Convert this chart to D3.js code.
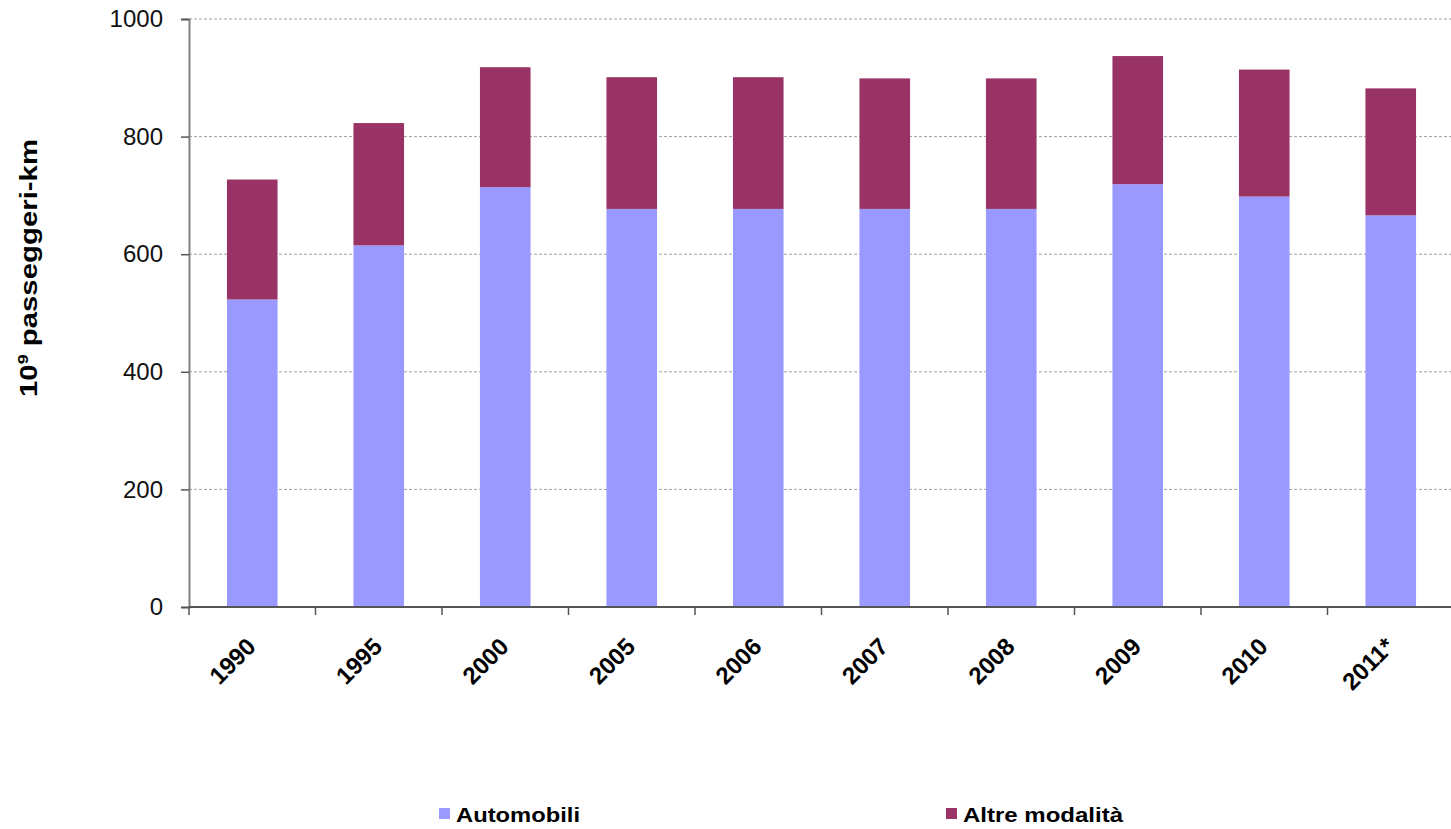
<!DOCTYPE html>
<html><head><meta charset="utf-8">
<script src="https://cdn.jsdelivr.net/npm/d3@7"></script>
<style>body{margin:0;background:#fff;} svg{display:block;}</style>
</head><body>
<svg id="chart" width="1451" height="829"></svg>
<script>
const categories = ["1990","1995","2000","2005","2006","2007","2008","2009","2010","2011*"];
const automobili = [523, 615, 714, 677, 677, 677, 677, 719, 698, 666];
const altre = [204, 208, 204, 224, 224, 222, 222, 218, 216, 216];
const yTicks = [0, 200, 400, 600, 800, 1000];
const seriesNames = ["Automobili", "Altre modalità"];
const colors = ["#9999ff", "#993366"];

const FONT = "Liberation Sans, Arial, Helvetica, sans-serif";
const svg = d3.select("#chart");
const m = {left: 189, top: 19, right: -3, bottom: 222};
const W = 1451, H = 829;
const x = d3.scaleBand().domain(categories).range([m.left, W - m.right]).paddingInner(0.6).paddingOuter(0.3);
const y = d3.scaleLinear().domain([0, 1000]).range([H - m.bottom, m.top]);

// gridlines
svg.append("g").selectAll("line").data(yTicks.filter(d => d > 0)).join("line")
  .attr("x1", m.left).attr("x2", W).attr("y1", d => y(d)).attr("y2", d => y(d))
  .attr("stroke", "#a0a0a0").attr("stroke-width", 1).attr("stroke-dasharray", "3,2");

const data = categories.map((c, i) => ({cat: c, a: automobili[i], b: altre[i]}));
const stack = d3.stack().keys(["a", "b"])(data);
svg.append("g").selectAll("g").data(stack).join("g").attr("fill", (d, i) => colors[i])
  .selectAll("rect").data(d => d).join("rect")
  .attr("x", d => x(d.data.cat)).attr("width", x.bandwidth())
  .attr("y", d => y(d[1])).attr("height", d => y(d[0]) - y(d[1]));

// y axis
const yAxis = svg.append("g").attr("transform", `translate(${m.left},0)`)
  .call(d3.axisLeft(y).tickValues(yTicks).tickFormat(d3.format("d")).tickSize(8).tickPadding(18));
yAxis.select(".domain").attr("stroke", "#808080").attr("stroke-width", 2);
yAxis.selectAll(".tick line").attr("stroke", "#555").attr("stroke-width", 1.5);
yAxis.selectAll("text").attr("font-family", FONT).attr("font-size", 24).attr("fill", "#111");

// x axis
const step = x.step();
const boundaries = categories.map((c, i) => x(c) - step * 0.3);
const xg = svg.append("g");
xg.append("line").attr("x1", m.left).attr("x2", W).attr("y1", y(0)).attr("y2", y(0)).attr("stroke", "#555").attr("stroke-width", 2);
xg.selectAll("line.t").data(boundaries).join("line").attr("class", "t")
  .attr("x1", d => d).attr("x2", d => d).attr("y1", y(0)).attr("y2", y(0) + 8)
  .attr("stroke", "#555").attr("stroke-width", 1.5);
xg.selectAll("text").data(categories).join("text")
  .attr("transform", d => `translate(${x(d) + x.bandwidth() / 2 + 5},${y(0) + 41}) rotate(-45)`)
  .attr("text-anchor", "end").attr("font-family", FONT)
  .attr("font-weight", "bold").attr("font-size", 24).attr("fill", "#000").text(d => d);

// y title
const yt = svg.append("text").attr("transform", "translate(37,268) rotate(-90)")
  .attr("text-anchor", "middle").attr("font-family", FONT)
  .attr("font-weight", "bold").attr("font-size", 23).attr("fill", "#000")
  .attr("textLength", 258).attr("lengthAdjust", "spacingAndGlyphs");
yt.append("tspan").text("10");
yt.append("tspan").attr("font-size", 14).attr("dy", -9).text("9");
yt.append("tspan").attr("dy", 9).text(" passeggeri-km");

// legend
const legX = [439, 946];
const legLen = [124, 160];
const lg = svg.append("g").selectAll("g").data(seriesNames).join("g")
  .attr("transform", (d, i) => `translate(${legX[i]},808)`);
lg.append("rect").attr("width", 11).attr("height", 11).attr("fill", (d, i) => colors[i]);
lg.append("text").attr("x", 17).attr("y", 14).attr("font-family", FONT)
  .attr("font-weight", "bold").attr("font-size", 20).attr("fill", "#000")
  .attr("textLength", (d, i) => legLen[i]).attr("lengthAdjust", "spacingAndGlyphs").text(d => d);
</script>
</body></html>
